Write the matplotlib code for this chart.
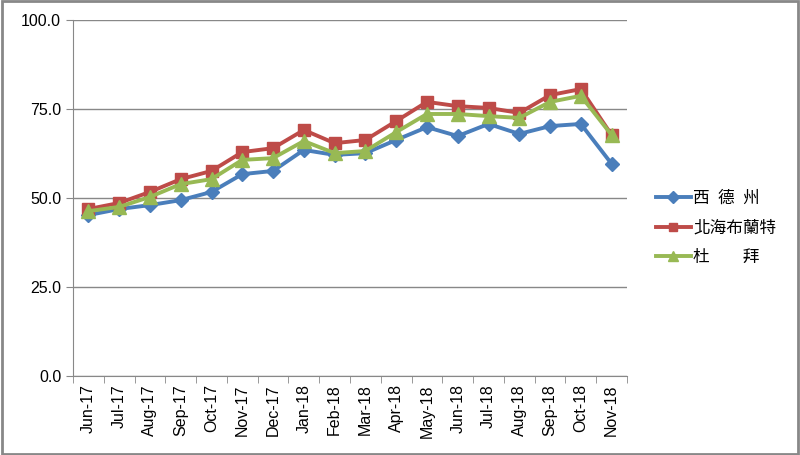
import matplotlib
matplotlib.use("Agg")
import matplotlib.pyplot as plt
from matplotlib.patches import Rectangle
import numpy as np

months = ["Jun-17", "Jul-17", "Aug-17", "Sep-17", "Oct-17", "Nov-17", "Dec-17",
          "Jan-18", "Feb-18", "Mar-18", "Apr-18", "May-18", "Jun-18", "Jul-18",
          "Aug-18", "Sep-18", "Oct-18", "Nov-18"]
wti = [45.2, 46.9, 48.0, 49.4, 51.7, 56.7, 57.6, 63.5, 62.1, 62.6, 66.3, 69.9,
       67.4, 70.8, 68.0, 70.2, 70.8, 59.6]
brent = [46.9, 48.6, 51.7, 55.3, 57.6, 62.9, 64.0, 69.1, 65.4, 66.3, 71.6, 77.0,
         75.8, 75.3, 73.9, 78.9, 80.6, 67.7]
dubai = [46.3, 47.5, 50.3, 53.9, 55.3, 60.7, 61.2, 66.0, 62.6, 63.2, 68.5, 73.6,
         73.6, 73.0, 72.5, 77.0, 78.7, 67.7]
names = ["西\u2002德\u2002州", "北海布蘭特", "杜　　拜"]
yticks = [0, 25, 50, 75, 100]

plt.rcParams['font.family'] = ['Liberation Sans', 'Noto Sans CJK TC', 'DejaVu Sans']

fig = plt.figure(figsize=(8, 4.55), dpi=100)
ax = fig.add_axes([73/800, 1-376/455, (627-73)/800, (376-20)/455])

x = np.arange(len(months))
ax.plot(x, wti, color="#4A7EBB", lw=2.8, marker="D", ms=7.5, label=names[0])
ax.plot(x, brent, color="#BE4B48", lw=2.8, marker="s", ms=8.5, label=names[1])
ax.plot(x, dubai, color="#98B954", lw=2.8, marker="^", ms=9.5, label=names[2])

ax.set_xlim(-0.5, len(months) - 0.5)
ax.set_ylim(0, 100)
ax.set_yticks(yticks)
ax.set_yticklabels([f"{v:.1f}" for v in yticks], fontsize=11.5)
ax.set_xticks(x)
ax.set_xticklabels(months, rotation=90, fontsize=11.5)
ax.set_xticks(np.arange(len(months) + 1) - 0.5, minor=True)
ax.tick_params(axis="x", which="major", length=0, pad=6)
ax.tick_params(axis="x", which="minor", length=5, color="#888888")
ax.tick_params(axis="y", length=5, color="#888888", direction="out")
ax.grid(axis="y", color="#888888", lw=1)
ax.set_axisbelow(True)
for s in ["top", "right"]:
    ax.spines[s].set_visible(False)
ax.spines["left"].set_color("#888888")
ax.spines["bottom"].set_color("#888888")

ax.legend(loc="center left", bbox_to_anchor=(1.052, 0.415), frameon=False,
          borderaxespad=0, borderpad=0,
          prop={"family": ["Noto Sans CJK TC"], "size": 12},
          handlelength=2.1, labelspacing=0.75, handletextpad=0.15, markerscale=0.75)

fig.patches.append(Rectangle((0.002, 0.003), 0.996, 0.994, transform=fig.transFigure,
                             fill=False, edgecolor="#888888", lw=2))

fig.savefig("out.png", dpi=100)
